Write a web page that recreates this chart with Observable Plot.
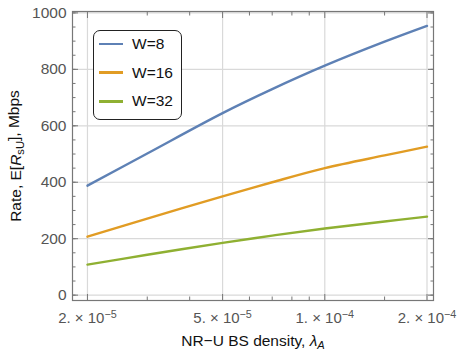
<!DOCTYPE html>
<html><head><meta charset="utf-8">
<script src="https://cdn.jsdelivr.net/npm/d3@7"></script>
<script src="https://cdn.jsdelivr.net/npm/@observablehq/plot@0.6"></script>
<style>
body{margin:0;background:#fff;}
#wrap{position:relative;width:458px;height:350px;overflow:hidden;font-family:"Liberation Sans",Arial,sans-serif;}
#legend{position:absolute;left:93px;top:30px;width:89px;height:90px;border:1px solid #222;border-radius:7px;background:#fff;box-sizing:border-box;}
.row{position:absolute;left:0;height:20px;display:flex;align-items:center;font-size:15.5px;color:#111;}
.sw{width:24px;height:2.5px;margin-left:5px;margin-right:9px;}
</style></head>
<body><div id="wrap"></div>
<script>
const xs = [2e-5, 3e-5, 5e-5, 7e-5, 1e-4, 1.5e-4, 2e-4];
const w8 = [388, 502, 645, 730, 813, 898, 954];
const w16 = [207, 271, 350, 400, 450, 495, 526];
const w32 = [108, 143, 185, 211, 236, 261, 278];
const seriesNames = ["W=8", "W=16", "W=32"];
const seriesValues = [w8, w16, w32];
const colors = ["#5E81B5", "#E19C24", "#8FB032"];
const yTicks = [0, 200, 400, 600, 800, 1000];
const yMinor = d3.range(0, 1001, 50);
const xTicks = [2e-5, 5e-5, 1e-4, 2e-4];
const xTickMantissa = ["2", "5", "1", "2"];
const xTickExponent = ["\u22125", "\u22125", "\u22124", "\u22124"];
const xMinor = [3e-5, 4e-5, 6e-5, 7e-5, 8e-5, 9e-5, 1.5e-4];

const data = seriesNames.flatMap((s, i) => xs.map((x, j) => ({series: s, x, y: seriesValues[i][j]})));

const frameColor = "#777";
const chart = Plot.plot({
  width: 458, height: 350,
  marginLeft: 72, marginRight: 25, marginTop: 11, marginBottom: 50,
  style: {fontFamily: "'Liberation Sans', Arial, sans-serif", fontSize: "15px", background: "#fff"},
  x: {type: "log", domain: [1.807e-5, 2.09e-4]},
  y: {domain: [-19, 1005]},
  color: {domain: seriesNames, range: colors},
  marks: [
    Plot.gridX(xTicks, {stroke: "#d9d9d9", strokeOpacity: 1, strokeWidth: 1.2}),
    Plot.gridY(yTicks, {stroke: "#d9d9d9", strokeOpacity: 1, strokeWidth: 1.2}),
    Plot.line(data, {x: "x", y: "y", z: "series", stroke: "series", strokeWidth: 2.4, curve: "catmull-rom"}),
    Plot.frame({stroke: frameColor, strokeWidth: 1.2}),
    Plot.axisY(yTicks, {anchor: "left", tickSize: -6, fill: "none", label: null, stroke: frameColor}),
    Plot.axisY(yMinor, {anchor: "left", tickSize: -3.5, fill: "none", label: null, stroke: frameColor}),
    Plot.axisY(yTicks, {anchor: "right", tickSize: -6, fill: "none", label: null, stroke: frameColor}),
    Plot.axisY(yMinor, {anchor: "right", tickSize: -3.5, fill: "none", label: null, stroke: frameColor}),
    Plot.axisX(xTicks, {anchor: "bottom", tickSize: -6, fill: "none", label: null, stroke: frameColor}),
    Plot.axisX(xMinor, {anchor: "bottom", tickSize: -3.5, fill: "none", label: null, stroke: frameColor}),
    Plot.axisX(xTicks, {anchor: "top", tickSize: -6, fill: "none", label: null, stroke: frameColor}),
    Plot.axisX(xMinor, {anchor: "top", tickSize: -3.5, fill: "none", label: null, stroke: frameColor}),
    Plot.axisY(yTicks, {anchor: "left", tickSize: 0, tickPadding: 6, fill: "#555", fontSize: 15.5,
      tickFormat: d => String(d),
      label: "Rate, E[R_sU], Mbps", labelAnchor: "center", labelOffset: 63}),
    Plot.axisX(xTicks, {anchor: "bottom", tickSize: 0, tickPadding: 12, fill: "#555", fontSize: 15,
      label: "NR\u2212U BS density, \u03BB_A", labelAnchor: "center", labelOffset: 45})
  ]
});

const svg = d3.select(chart);
svg.selectAll('g[aria-label="x-axis tick label"] text').each(function(_, k) {
  const t = d3.select(this);
  t.text(null);
  t.append("tspan").text(xTickMantissa[k] + ". \u00D7 10");
  t.append("tspan").attr("dy", "-0.5em").attr("font-size", "0.72em").text(xTickExponent[k]);
});
svg.selectAll('g[aria-label="x-axis label"] text').each(function() {
  const t = d3.select(this);
  t.attr("fill", "#111").attr("font-size", "15.5px");
  t.text(null);
  t.append("tspan").text("NR\u2212U BS density, ");
  t.append("tspan").attr("font-style", "italic").text("\u03BB");
  t.append("tspan").attr("font-style", "italic").attr("font-size", "0.72em").attr("dy", "0.3em").text("A");
});
svg.selectAll('g[aria-label="y-axis label"] text').each(function() {
  const t = d3.select(this);
  t.attr("fill", "#111").attr("font-size", "15.5px");
  t.text(null);
  t.append("tspan").text("Rate, E[");
  t.append("tspan").attr("font-style", "italic").text("R");
  t.append("tspan").attr("font-size", "0.72em").attr("dy", "0.3em").text("sU");
  t.append("tspan").attr("dy", "-0.3em").text("], Mbps");
});

const wrap = document.getElementById("wrap");
wrap.appendChild(chart);

const legend = document.createElement("div");
legend.id = "legend";
seriesNames.forEach((s, i) => {
  const row = document.createElement("div");
  row.className = "row";
  row.style.top = (3 + i * 28.7) + "px";
  const sw = document.createElement("span");
  sw.className = "sw";
  sw.style.background = colors[i];
  const tx = document.createElement("span");
  tx.textContent = s;
  row.appendChild(sw); row.appendChild(tx);
  legend.appendChild(row);
});
wrap.appendChild(legend);
</script>
</body></html>
